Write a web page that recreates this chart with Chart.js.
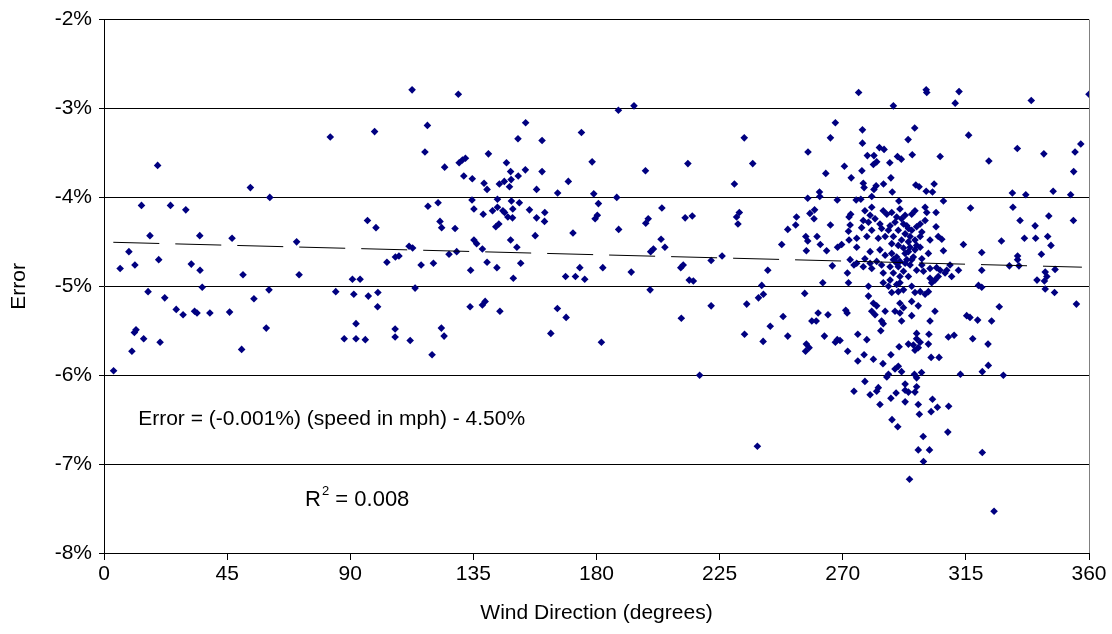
<!DOCTYPE html>
<html>
<head>
<meta charset="utf-8">
<script src="https://cdn.jsdelivr.net/npm/chart.js@4.4.1/dist/chart.umd.min.js"></script>
<style>
  body { margin: 0; background: #fff; }
  #chart { display: block; }
</style>
</head>
<body>
<canvas id="chart" width="1112" height="634"></canvas>
<script>
// ============================================================
// Error vs wind direction scatter
// ============================================================

// wind direction (degrees), one line per region of the plot
const windDir = [
  5.9, 9.1, 11.3, 13.7, 16.8, 19.6, 20.0, 16.1, 22.2, 24.3, 26.4, 28.9, 29.9, 31.9, 35.0, 35.1, 35.9, 33.1, 34.0, 38.7, 45.9, 46.8, 50.8, 53.5, 54.8, 60.3, 60.6, 70.4, 71.3, 82.7, 84.7, 90.8, 91.3,
  3.5, 10.2, 11.1, 11.7, 14.5, 20.5, 50.3, 59.3, 87.8, 92.1, 92.1,
  112.6, 129.5, 98.9, 118.2, 117.3, 124.5, 129.8, 131.0, 132.1, 140.5, 131.5, 134.6, 138.9, 140.0, 144.5, 146.3, 148.2, 148.8, 148.6, 147.1, 151.4, 154.1, 151.3, 160.1, 154.0, 160.1, 158.1, 165.8, 169.7, 174.5, 178.4, 179.0, 180.7, 179.5, 180.3, 171.4,
  118.4, 122.1, 96.3, 99.4, 122.8, 123.4, 128.3, 134.5, 135.2, 138.6, 142.0, 143.8, 143.8, 145.8, 146.4, 148.9, 149.4, 151.8, 147.6, 149.3, 155.5, 158.1, 161.1, 161.0, 143.2, 144.3, 157.6, 135.2, 136.2, 138.3, 148.6, 150.9,
  111.5, 112.8, 106.5, 107.8, 103.4, 115.9, 120.4, 126.1, 128.9, 134.0, 140.0, 143.6, 152.3, 149.6, 168.7, 172.3, 175.7, 173.9, 182.3, 93.6, 96.6, 100.1, 100.0, 113.7, 133.8, 138.3, 139.3, 144.7, 165.7, 168.9,
  95.5, 106.4, 106.4, 111.9, 119.9, 123.3, 124.3, 163.3, 181.8,
  188.0, 193.7, 234.0, 237.1, 213.4, 197.9, 230.4, 257.3, 267.3, 265.5, 270.6, 273.1, 263.8, 275.8, 187.4, 203.9, 198.9, 198.0, 188.1, 212.4, 215.0, 231.2, 232.2, 231.7, 203.6, 205.0, 199.8, 200.8, 192.7, 210.8, 211.7, 221.9, 225.9, 242.6, 213.9, 215.4, 199.6, 240.4, 239.2, 241.0, 234.9, 221.9, 211.0,
  249.9, 252.8, 253.1, 247.7, 256.5, 257.2, 260.6, 261.8, 264.1, 256.7, 257.2, 261.5, 261.6, 268.0, 259.7, 259.5, 258.0, 265.5, 268.1, 269.6, 272.3, 272.9, 272.7, 272.1, 272.3, 274.9, 275.1, 275.1, 272.7, 274.1, 275.1, 266.2, 271.7, 272.1, 262.7, 256.1, 261.0, 264.6, 271.1, 271.6, 248.2, 258.7, 260.3,
  234.1, 243.5, 240.9, 249.9, 256.7, 257.7, 256.4, 263.3, 267.3, 268.0, 269.0, 271.8, 275.5, 275.5, 217.7, 274.1, 238.8,
  300.5, 300.7, 312.5, 311.1, 288.5, 338.9, 360.0, 277.2, 277.2, 296.3, 293.9, 316.0, 333.8, 343.5, 357.0, 354.9, 354.4, 323.4, 305.6, 279.0, 281.4, 283.4, 285.1, 282.4, 281.2, 287.2, 290.0, 291.4, 295.4, 277.0, 287.6,
  277.5, 277.8, 281.4, 282.2, 284.9, 288.1, 296.7, 297.9, 300.5, 302.8, 303.4, 276.6, 280.6, 290.5, 306.8, 332.0, 336.9, 346.9, 353.3, 316.7, 332.2, 345.3, 354.3, 334.8, 340.3, 344.9, 346.1, 336.4, 340.5, 328.0,
  320.8, 314.1, 342.6, 333.9, 330.9, 334.4, 333.9, 347.6, 344.0, 344.6, 341.0, 343.7, 320.8, 344.0, 347.4, 355.4, 327.2, 319.6, 320.8, 315.3, 316.5, 319.3, 324.4,
  278.1, 280.6, 280.0, 284.8, 286.1, 287.9, 290.9, 289.7, 292.8, 295.2, 296.4, 300.1, 300.7, 304.1, 277.5, 279.4, 281.8, 283.6, 287.3, 289.1, 292.2, 294.0, 297.0, 298.3, 300.1, 304.1, 276.9, 280.6, 284.2, 286.7, 290.3, 292.8, 295.2, 298.9,
  278.8, 283.0, 285.5, 288.5, 291.5, 294.0, 296.4, 298.3, 301.9, 304.9, 306.2, 287.9, 290.3, 294.6, 297.0, 280.0, 283.6, 285.5, 287.9, 289.7, 292.8, 294.0, 295.8, 298.9, 301.3, 306.8, 278.1, 280.0, 282.4, 288.5, 290.9, 295.2,
  277.5, 280.6, 284.2, 287.3, 289.7, 292.8, 294.6, 298.9, 301.9, 304.3, 305.6, 309.2, 308.0, 307.4, 309.8, 312.3, 284.8, 288.5, 292.2, 290.9, 301.9, 304.9,
  279.4, 284.8, 286.7, 289.7, 290.9, 292.2, 295.2, 296.4, 298.3, 301.3, 302.5, 303.7, 287.9, 290.3, 300.1, 279.4, 281.2, 282.4, 295.2, 297.6, 290.9, 292.2, 280.6, 281.8, 285.5, 289.1, 290.9, 295.2, 303.7, 301.9, 284.2, 291.5,
  291.5, 293.4, 294.6, 292.2, 296.4, 298.3, 297.0, 294.0, 299.5, 287.3, 290.3, 293.4,
  284.8, 283.9, 278.8, 290.6, 294.0, 295.8, 297.0, 297.6, 296.4, 298.3, 297.0, 301.5, 301.3, 302.3, 305.2, 308.6, 310.7, 317.5, 323.1, 287.6, 277.8, 281.2, 284.7, 286.1, 286.7, 289.1, 290.3, 291.5, 296.2, 297.0, 298.8,
  278.1, 280.0, 282.4, 283.0, 283.6, 287.6, 289.5, 292.8, 292.8, 292.8, 294.0, 296.4, 297.0, 297.6, 298.0, 302.8, 302.3, 304.6, 308.7, 288.0, 290.1, 299.4, 297.6, 301.7, 299.5, 308.4, 294.4, 313.0, 321.0, 323.2, 328.7, 321.0, 325.3
];

// error (%), same order as windDir
const errorPct = [
  -4.80, -4.61, -4.76, -4.09, -4.43, -3.64, -4.70, -5.06, -5.13, -4.09, -5.26, -5.32, -4.14, -4.75, -4.43, -4.82, -5.01, -5.28, -5.30, -5.30, -5.29, -4.46, -4.87, -3.89, -5.14, -5.04, -4.00, -4.50, -4.87, -3.32, -5.06, -4.92, -5.09,
  -5.95, -5.73, -5.52, -5.49, -5.59, -5.63, -5.71, -5.47, -5.59, -5.59, -5.42,
  -2.79, -2.84, -3.26, -3.19, -3.49, -3.66, -3.61, -3.58, -3.56, -3.51, -3.76, -3.79, -3.84, -3.91, -3.85, -3.82, -3.88, -3.80, -3.71, -3.61, -3.76, -3.16, -3.34, -3.36, -3.69, -3.71, -3.91, -3.95, -3.82, -3.27, -3.60, -3.96, -4.07, -4.24, -4.20, -4.40,
  -4.10, -4.06, -4.26, -4.34, -4.27, -4.34, -4.35, -4.03, -4.13, -4.19, -4.15, -4.11, -4.02, -4.15, -4.17, -4.04, -4.13, -4.06, -4.22, -4.23, -4.14, -4.23, -4.17, -4.27, -4.33, -4.30, -4.43, -4.48, -4.52, -4.58, -4.48, -4.56,
  -4.55, -4.57, -4.67, -4.66, -4.73, -4.76, -4.74, -4.64, -4.61, -4.82, -4.73, -4.79, -4.74, -4.91, -4.89, -4.89, -4.92, -4.79, -4.79, -4.92, -5.11, -5.07, -5.23, -5.02, -5.23, -5.21, -5.17, -5.28, -5.25, -5.35,
  -5.60, -5.48, -5.57, -5.61, -5.77, -5.47, -5.56, -5.53, -5.63,
  -3.02, -2.97, -3.33, -3.62, -3.62, -3.70, -3.85, -3.49, -3.16, -3.33, -3.65, -3.78, -3.73, -2.82, -4.00, -4.12, -4.24, -4.29, -4.36, -4.23, -4.21, -4.22, -4.17, -4.30, -4.47, -4.56, -4.61, -4.58, -4.84, -4.79, -4.76, -4.71, -4.66, -4.82, -4.93, -4.94, -5.04, -4.99, -5.13, -5.09, -5.20, -5.22, -5.36,
  -4.36, -4.31, -4.22, -4.53, -4.44, -4.49, -4.44, -4.53, -4.60, -4.60, -4.01, -3.94, -3.99, -4.03, -4.14, -4.24, -4.18, -4.31, -4.56, -4.53, -4.22, -4.19, -4.31, -4.38, -4.48, -4.03, -4.56, -4.46, -4.70, -4.76, -4.74, -4.77, -4.85, -4.96, -4.96, -5.08, -5.30, -5.32, -5.27, -5.30, -5.34, -5.39, -5.39,
  -5.54, -5.45, -5.62, -5.56, -5.65, -5.69, -5.73, -5.56, -5.63, -5.60, -5.61, -5.73, -5.54, -5.84, -6.00, -6.18, -6.80,
  -2.79, -2.82, -2.81, -2.94, -2.97, -2.91, -2.84, -3.24, -3.39, -3.22, -3.35, -3.30, -3.45, -3.51, -3.40, -3.49, -3.71, -3.59, -3.54, -3.53, -3.53, -3.44, -3.46, -3.60, -3.63, -3.61, -3.54, -3.57, -3.52, -3.70, -3.78,
  -3.84, -3.89, -3.91, -3.87, -3.85, -3.94, -3.86, -3.88, -3.93, -3.94, -3.85, -4.02, -3.99, -4.04, -4.04, -3.95, -3.97, -3.93, -3.97, -4.12, -4.11, -4.21, -4.26, -4.26, -4.32, -4.44, -4.54, -4.46, -4.46, -4.49,
  -4.62, -4.53, -4.64, -4.66, -4.77, -4.77, -4.70, -4.81, -4.84, -4.89, -4.93, -4.94, -4.82, -5.03, -5.07, -5.20, -5.23, -4.99, -5.01, -5.33, -5.35, -5.38, -5.39,
  -4.15, -4.11, -4.20, -4.15, -4.19, -4.17, -4.13, -4.22, -4.20, -4.19, -4.15, -4.11, -4.17, -4.17, -4.26, -4.28, -4.24, -4.30, -4.32, -4.28, -4.30, -4.35, -4.33, -4.30, -4.26, -4.33, -4.34, -4.37, -4.35, -4.37, -4.37, -4.41, -4.37, -4.39,
  -4.44, -4.46, -4.44, -4.44, -4.48, -4.50, -4.48, -4.44, -4.48, -4.44, -4.47, -4.52, -4.54, -4.56, -4.54, -4.61, -4.59, -4.65, -4.63, -4.67, -4.63, -4.61, -4.67, -4.69, -4.63, -4.60, -4.69, -4.74, -4.72, -4.70, -4.72, -4.70,
  -4.78, -4.80, -4.76, -4.78, -4.74, -4.74, -4.76, -4.76, -4.80, -4.79, -4.82, -4.76, -4.82, -4.85, -4.89, -4.82, -4.85, -4.85, -4.83, -4.89, -4.91, -4.89,
  -5.00, -4.96, -5.00, -4.98, -4.96, -5.04, -5.00, -5.07, -5.06, -5.06, -4.96, -4.93, -5.07, -5.06, -5.09, -5.11, -5.19, -5.22, -5.17, -5.22, -5.19, -5.24, -5.28, -5.32, -5.28, -5.28, -5.30, -5.33, -5.28, -5.39, -5.39, -5.39,
  -4.24, -4.32, -4.44, -4.57, -4.59, -4.56, -4.82, -4.89, -4.83, -4.93, -4.78, -4.70,
  -5.42, -5.50, -5.60, -5.68, -5.65, -5.66, -5.59, -5.69, -5.72, -5.63, -5.53, -5.54, -5.65, -5.80, -5.80, -5.57, -5.55, -5.59, -5.65, -5.77, -5.77, -5.82, -5.87, -6.02, -5.99, -5.93, -5.90, -5.96, -5.99, -6.03, -5.97,
  -6.07, -6.22, -6.18, -6.14, -6.33, -6.26, -6.20, -6.10, -6.17, -6.30, -6.19, -6.19, -6.13, -6.33, -6.44, -6.27, -6.41, -6.36, -6.35, -6.50, -6.58, -6.69, -6.84, -6.84, -6.97, -6.64, -7.17, -5.99, -5.96, -5.89, -6.00, -6.87, -7.53
];

// linear trend line end points
const trendDir = [3.4, 357.4];
const trendErr = [-4.505, -4.785];

// axis ticks
const xTicks = [0, 45, 90, 135, 180, 225, 270, 315, 360];
const yTicks = [-8, -7, -6, -5, -4, -3, -2];

const FONT = "'Liberation Sans', Arial, Helvetica, sans-serif";
Chart.defaults.color = '#000';
Chart.defaults.font.family = FONT;

const points = windDir.map((d, i) => ({ x: d, y: errorPct[i] }));
const trend = trendDir.map((d, i) => ({ x: d, y: trendErr[i] }));

// frame on the right plus the two text boxes
const extras = {
  id: 'extras',
  afterDraw(chart) {
    const { ctx, chartArea: a, scales: { x, y } } = chart;
    ctx.save();
    ctx.strokeStyle = '#808080';
    ctx.lineWidth = 1;
    ctx.beginPath();
    ctx.moveTo(a.right + 0.5, a.top);
    ctx.lineTo(a.right + 0.5, a.bottom);
    ctx.stroke();

    ctx.fillStyle = '#000';
    ctx.textBaseline = 'alphabetic';
    ctx.textAlign = 'left';
    ctx.font = `21px ${FONT}`;
    ctx.fillText('Error = (-0.001%) (speed in mph) - 4.50%', x.getPixelForValue(12.5), y.getPixelForValue(-6.563));

    let px = x.getPixelForValue(73.5);
    const py = y.getPixelForValue(-7.474);
    ctx.font = `22px ${FONT}`;
    ctx.fillText('R', px, py);
    px += ctx.measureText('R').width;
    ctx.font = `13px ${FONT}`;
    ctx.fillText('2', px + 1, py - 11);
    px += ctx.measureText('2').width + 1;
    ctx.font = `22px ${FONT}`;
    ctx.fillText(' = 0.008', px, py);
    ctx.restore();
  }
};

new Chart(document.getElementById('chart'), {
  type: 'scatter',
  data: {
    datasets: [
      {
        data: trend, showLine: true, borderColor: '#000', borderWidth: 1,
        borderDash: [46, 16], pointRadius: 0, fill: false
      },
      {
        data: points, pointStyle: 'rectRot', pointRadius: 3.8,
        backgroundColor: '#000080', borderColor: '#000080', borderWidth: 0
      }
    ]
  },
  options: {
    responsive: false,
    animation: false,
    events: [],
    layout: { padding: { left: 0, top: 13, right: 23, bottom: 0 } },
    plugins: { legend: { display: false }, tooltip: { enabled: false } },
    scales: {
      x: {
        type: 'linear', min: 0, max: 360,
        afterFit: s => { s.height = 81; },
        afterBuildTicks: s => { s.ticks = xTicks.map(v => ({ value: v })); },
        grid: { drawOnChartArea: false, drawTicks: true, tickLength: 7, color: '#000' },
        border: { color: '#000', width: 1 },
        ticks: { font: { size: 21 }, padding: 2, maxRotation: 0, autoSkip: false },
        title: { display: true, text: 'Wind Direction (degrees)', font: { size: 21 }, padding: { top: 0, bottom: 8 } }
      },
      y: {
        type: 'linear', min: -8, max: -2,
        afterFit: s => { s.width = 104; },
        afterBuildTicks: s => { s.ticks = yTicks.map(v => ({ value: v })); },
        grid: { color: '#000', lineWidth: 1, drawTicks: true, tickLength: 5 },
        border: { color: '#000', width: 1 },
        ticks: { font: { size: 21 }, padding: 7, callback: v => v + '%' },
        title: { display: true, text: 'Error', font: { size: 21 }, padding: { top: 7, bottom: 0 } }
      }
    }
  },
  plugins: [extras]
});
</script>
</body>
</html>
